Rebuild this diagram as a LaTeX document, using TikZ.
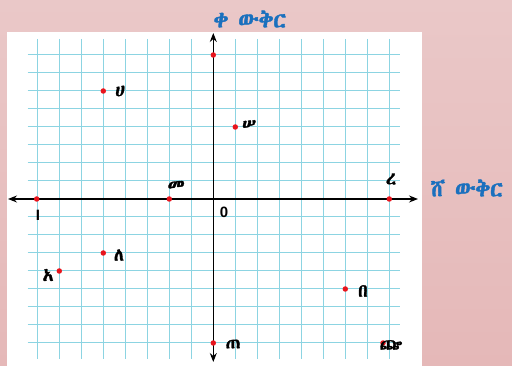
\documentclass[tikz,border=0pt]{standalone}
\usepackage{fontspec}
\setmainfont{Liberation Sans}
\IfFontExistsTF{Abyssinica SIL}{\newfontfamily\ethfont[FakeBold=1.8]{Abyssinica SIL}}{\newfontfamily\ethfont{DejaVu Sans}}
\usetikzlibrary{arrows.meta}
\definecolor{bgtop}{HTML}{EAC8C8}
\definecolor{bgbot}{HTML}{E5B8B8}
\definecolor{gridc}{RGB}{140,212,226}
\definecolor{dotc}{HTML}{E8141C}
\definecolor{titc}{HTML}{1A70BE}
\begin{document}
\begin{tikzpicture}[x=1pt,y=-1pt,
  gridline/.style={draw=gridc,line width=1pt},
  axis/.style={draw=black,line width=1.2pt,-{Stealth[length=9pt,width=7pt,inset=3pt]}},
  pt/.style={circle,fill=dotc,inner sep=0pt,minimum size=5.5pt},
  lab/.style={font=\ethfont\fontsize{18}{18}\selectfont,inner sep=0pt},
  axlab/.style={font=\ethfont\fontsize{22}{22}\selectfont,text=titc,inner sep=0pt},
  num/.style={font=\bfseries\fontsize{15}{15}\selectfont,inner sep=0pt}]
\useasboundingbox (0,0) rectangle (512,366);
\shade[top color=bgtop,bottom color=bgbot] (0,0) rectangle (512,366);
\fill[white] (7,32) rectangle (422,366);
% grid
\foreach \i in {-8,...,8} {
  \draw[gridline] (213.3+22*\i,39) -- (213.3+22*\i,359);
  \draw[gridline] (27.7,199-18*\i) -- (400,199-18*\i);
}
% axes
\coordinate (xl) at (8,199);
\coordinate (xr) at (418,199);
\coordinate (yt) at (213.3,33);
\coordinate (yb) at (213.3,362);
\coordinate (o) at (213.3,199);
\draw[axis] (o) -- (xl);
\draw[axis] (o) -- (xr);
\draw[axis] (o) -- (yt);
\draw[axis] (o) -- (yb);
% points
\node[pt] (p1) at (213.3,55) {};
\node[pt] (p2) at (103.3,91) {};
\node[pt] (p3) at (235.3,127) {};
\node[pt] (p4) at (169.3,199) {};
\node[pt] (p5) at (389.3,199) {};
\node[pt] (p6) at (36.7,199) {};
\node[pt] (p7) at (103.3,253) {};
\node[pt] (p8) at (59.3,271) {};
\node[pt] (p9) at (345.3,289) {};
\node[pt] (p10) at (213.3,343) {};
\node[pt] (p11) at (383,343) {};
% labels
\node[axlab] (ty) at (250,19) {ቀ ውቅር};
\node[axlab] (tx) at (467,188) {ሸ ውቅር};
\node[lab] (l2) at (120,91) {ሀ};
\node[lab] (l3) at (249,125) {ሠ};
\node[lab] (l4) at (176,186) {መ};
\node[lab] (l5) at (391,179) {ረ};
\node[num] (l6) at (38,215) {I};
\node[num] (l0) at (224,212) {0};
\node[lab] (l7) at (119,255) {ለ};
\node[lab] (l8) at (48,275) {አ};
\node[lab] (l9) at (363,291) {በ};
\node[lab] (l10) at (233,344) {ጠ};
\node[lab] (l11) at (391,345) {ጬ};
\end{tikzpicture}
\end{document}
